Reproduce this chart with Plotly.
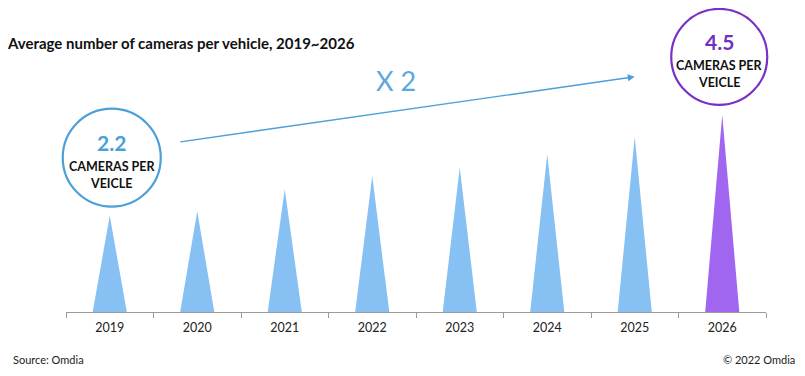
import plotly.graph_objects as go

years = ["2019", "2020", "2021", "2022", "2023", "2024", "2025", "2026"]
cameras = [2.2, 2.3, 2.8, 3.1, 3.3, 3.6, 4.0, 4.5]
highlight_year = "2026"

BLUE = "#87c1f3"
PURPLE = "#a066f0"
CIRCLE_BLUE = "#4d9fd8"
CIRCLE_PURPLE = "#7a2fc8"
FONT = "Lato"

# figure geometry (page body adds 8px margin)
W, H = 797, 368
ML, MR, MT, MB = 58, 39, 32, 64
PW, PH = W - ML - MR, H - MT - MB
YMAX = 6.21
n = len(years)

half_w = 0.195  # half of triangle base, in category units

fig = go.Figure()
for i, (yr, v) in enumerate(zip(years, cameras)):
    col = PURPLE if yr == highlight_year else BLUE
    fig.add_trace(go.Scatter(
        x=[i - half_w, i, i + half_w, i - half_w],
        y=[0, v, 0, 0],
        fill="toself", fillcolor=col, mode="lines",
        line=dict(width=0, color=col), hoverinfo="skip", showlegend=False,
    ))

first_i, last_i = 0, n - 1

# circles anchored above the first and last spikes (paper refs -> no clipping)
for idx, col, dx, r in [(first_i, CIRCLE_BLUE, 2, 49), (last_i, CIRCLE_PURPLE, -3, 48)]:
    fig.add_shape(type="circle", xref="paper", yref="paper",
                  xsizemode="pixel", ysizemode="pixel",
                  xanchor=(idx + 0.5) / n, yanchor=cameras[idx] / YMAX,
                  x0=dx - r, x1=dx + r, y0=58 - r, y1=58 + r,
                  line=dict(color=col, width=2.2), fillcolor="white")

def circle_text(idx, color, dx):
    v = cameras[idx]
    fig.add_annotation(x=idx, y=v, xref="x", yref="y", text=f"<b>{v}</b>",
                       showarrow=False, xshift=dx, yshift=73,
                       font=dict(family=FONT, size=21, color=color))
    fig.add_annotation(x=idx, y=v, xref="x", yref="y", text="<b>CAMERAS PER</b>",
                       showarrow=False, xshift=dx, yshift=49,
                       font=dict(family=FONT, size=12.5, color="#111111"))
    fig.add_annotation(x=idx, y=v, xref="x", yref="y", text="<b>VEICLE</b>",
                       showarrow=False, xshift=dx, yshift=32,
                       font=dict(family=FONT, size=12.5, color="#111111"))

circle_text(first_i, "#4a9fd8", 2)
circle_text(last_i, "#7030c0", -3)

# growth arrow
fig.add_annotation(x=6.0, y=5.37, ax=0.79, ay=3.88, xref="x", yref="y",
                   axref="x", ayref="y", showarrow=True, arrowhead=2,
                   arrowsize=1, arrowwidth=1.4, arrowcolor="#4a9fd8", text="")
fig.add_annotation(x=3.27, y=5.29, xref="x", yref="y", text="X 2",
                   showarrow=False,
                   font=dict(family=FONT, size=27, color="#5aa7e2"))

fig.update_layout(
    width=W, height=H,
    margin=dict(l=ML, r=MR, t=MT, b=MB),
    paper_bgcolor="white", plot_bgcolor="white",
    title=dict(text="<b>Average number of cameras per vehicle, 2019~2026</b>",
               x=0, xanchor="left", xref="container",
               y=1 - 36 / H, yanchor="middle", yref="container",
               pad=dict(l=0, r=0, t=0, b=0),
               font=dict(family=FONT, size=15, color="#111111")),
    xaxis=dict(range=[-0.5, n - 0.5], tickmode="array",
               tickvals=list(range(n)), ticktext=years, ticks="",
               showline=True, linecolor="#9a9a9a", linewidth=1,
               showgrid=False, zeroline=False, ticklabelstandoff=4,
               tickfont=dict(family=FONT, size=12.5, color="#222222"),
               minor=dict(tickmode="array",
                          tickvals=[i - 0.5 for i in range(n + 1)],
                          ticks="outside", ticklen=5, tickcolor="#9a9a9a",
                          showgrid=False)),
    yaxis=dict(range=[0, YMAX], visible=False, showgrid=False),
    font=dict(family=FONT),
)
fig.add_annotation(x=(3 - ML) / PW, y=(PH + MT - 360) / PH, xref="paper", yref="paper",
                   text="Source: Omdia", showarrow=False, xanchor="left",
                   font=dict(family=FONT, size=11, color="#222222"))
fig.add_annotation(x=(789 - ML) / PW, y=(PH + MT - 360) / PH, xref="paper", yref="paper",
                   text="© 2022 Omdia", showarrow=False, xanchor="right",
                   font=dict(family=FONT, size=11, color="#222222"))

fig.write_html("out.html")
